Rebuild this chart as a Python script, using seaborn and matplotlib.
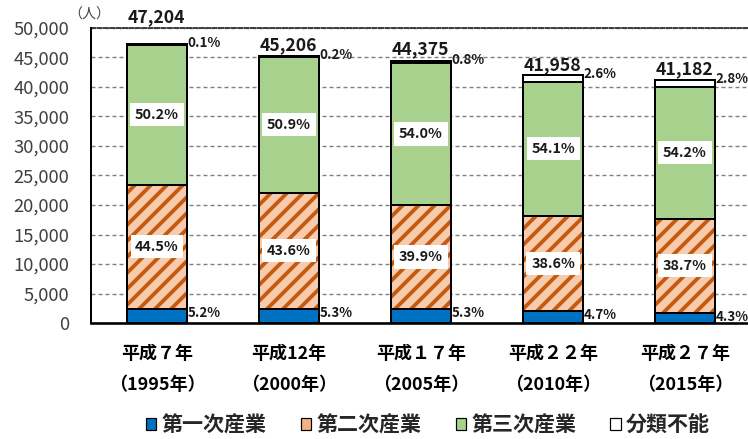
import numpy as np
import pandas as pd
import matplotlib
matplotlib.use("Agg")
import matplotlib.pyplot as plt
from matplotlib.patches import Patch
import seaborn as sns

# ---- data ----
categories = ["平成７年\n（1995年）", "平成12年\n（2000年）", "平成１７年\n（2005年）",
              "平成２２年\n（2010年）", "平成２７年\n（2015年）"]
totals = [47204, 45206, 44375, 41958, 41182]
pct_primary = [5.2, 5.3, 5.3, 4.7, 4.3]
pct_secondary = [44.5, 43.6, 39.9, 38.6, 38.7]
pct_tertiary = [50.2, 50.9, 54.0, 54.1, 54.2]
pct_unclassified = [0.1, 0.2, 0.8, 2.6, 2.8]
series_names = ["第一次産業", "第二次産業", "第三次産業", "分類不能"]
yticks = list(range(0, 50001, 5000))

# ---- style ----
sns.set_theme(style="white")
plt.rcParams["font.family"] = ["Noto Sans CJK JP", "DejaVu Sans"]
plt.rcParams["hatch.linewidth"] = 1.9
plt.rcParams["lines.scale_dashes"] = False

DPI = 144
fig = plt.figure(figsize=(748 / DPI, 439 / DPI), dpi=DPI)
ax = fig.add_axes([91 / 748, 116 / 439, (748 - 91) / 748, (323 - 28) / 439])

c_primary = "#0070C0"
c_secondary = "#F8CBAD"
c_hatch = "#C55A11"
c_tertiary = "#A9D18E"
c_unclass = "#FFFFFF"

totals_a = np.array(totals, dtype=float)
seg = [totals_a * np.array(p) / 100 for p in (pct_primary, pct_secondary, pct_tertiary, pct_unclassified)]
bottoms = [np.zeros(5)]
for s in seg[:-1]:
    bottoms.append(bottoms[-1] + s)

W = 0.45
EW = 1.0
df_x = pd.Series(categories)

# primary
sns.barplot(x=df_x, y=seg[0], bottom=bottoms[0], color=c_primary, saturation=1,
            width=W, edgecolor="black", linewidth=EW, errorbar=None, ax=ax, zorder=3)
# secondary: hatched fill then outline
sns.barplot(x=df_x, y=seg[1], bottom=bottoms[1], color=c_secondary, saturation=1,
            width=W, edgecolor=c_hatch, linewidth=0, hatch="///", errorbar=None, ax=ax, zorder=3)
sns.barplot(x=df_x, y=seg[1], bottom=bottoms[1], color="black", fill=False, saturation=1,
            width=W, linewidth=EW, errorbar=None, ax=ax, zorder=4)
# tertiary
sns.barplot(x=df_x, y=seg[2], bottom=bottoms[2], color=c_tertiary, saturation=1,
            width=W, edgecolor="black", linewidth=EW, errorbar=None, ax=ax, zorder=3)
# unclassified
sns.barplot(x=df_x, y=seg[3], bottom=bottoms[3], color=c_unclass, saturation=1,
            width=W, edgecolor="black", linewidth=EW, errorbar=None, ax=ax, zorder=3)

ax.set_xlim(-0.5, 4.477)
ax.set_ylim(0, 50000)
ax.set_yticks(yticks)
ax.set_yticklabels([f"{v:,}" for v in yticks])
ax.set_xlabel("")
ax.set_ylabel("")

ax.set_axisbelow(True)
ax.yaxis.grid(True, color="#808080", linestyle=(0, (2, 1.5)), linewidth=0.7)
ax.xaxis.grid(False)
ax.spines["right"].set_visible(False)
ax.spines["top"].set_color("#404040")
ax.spines["top"].set_linestyle((0, (2, 1.2)))
ax.spines["top"].set_linewidth(1.0)
ax.spines["left"].set_color("black")
ax.spines["left"].set_linewidth(1.0)
ax.spines["bottom"].set_color("black")
ax.spines["bottom"].set_linewidth(1.3)
ax.spines["left"].set_zorder(5)
ax.spines["bottom"].set_zorder(5)

ax.tick_params(axis="y", length=0, pad=11, labelsize=9.2, labelcolor="#404040")
ax.tick_params(axis="x", length=0, pad=11, labelsize=9)
for lab in ax.get_xticklabels():
    lab.set_fontweight("bold")
    lab.set_linespacing(1.95)
    lab.set_color("black")

# ---- labels ----
box = dict(boxstyle="square,pad=0.32", facecolor="white", edgecolor="none")
for i in range(5):
    for k, pcts in ((1, pct_secondary), (2, pct_tertiary)):
        ax.text(i, bottoms[k][i] + seg[k][i] / 2, f"{pcts[i]:.1f}%", ha="center", va="center",
                fontsize=7.2, fontweight="bold", color="#1a1a1a", bbox=box, zorder=6)
    ax.annotate(f"{pct_primary[i]:.1f}%", xy=(i + W / 2, bottoms[1][i]), xytext=(0.3, -2),
                textcoords="offset points", ha="left", va="center",
                fontsize=6.7, fontweight="bold", color="#1a1a1a", zorder=6)
    ax.annotate(f"{pct_unclassified[i]:.1f}%", xy=(i + W / 2, totals[i]), xytext=(0.3, 0.5),
                textcoords="offset points", ha="left", va="center",
                fontsize=6.7, fontweight="bold", color="#1a1a1a", zorder=6)

total_offsets = [13.5, 5.5, 6, 5, 5.5]
for i in range(5):
    ax.annotate(f"{totals[i]:,}", xy=(i, totals[i]), xytext=(-0.5, total_offsets[i]),
                textcoords="offset points", ha="center", va="center",
                fontsize=8.8, fontweight="bold", color="#1a1a1a", zorder=6,
                annotation_clip=False)

fig.text(89 / 748, 1 - 15 / 439, "（人）", ha="center", va="center", fontsize=7, color="#404040")

# ---- legend ----
handles = [
    Patch(facecolor=c_primary, edgecolor="black", linewidth=0.6),
    Patch(facecolor="#F4B183", edgecolor="black", linewidth=0.6),
    Patch(facecolor=c_tertiary, edgecolor="black", linewidth=0.6),
    Patch(facecolor=c_unclass, edgecolor="black", linewidth=0.6),
]
leg = fig.legend(handles, series_names, loc="center", bbox_to_anchor=(428 / 748, 1 - 425 / 439),
                 ncol=4, frameon=False, handlelength=0.5, handleheight=0.5,
                 handletextpad=0.25, columnspacing=1.62,
                 prop={"size": 10.5, "weight": "bold"})

fig.savefig("out.png", dpi=DPI)
